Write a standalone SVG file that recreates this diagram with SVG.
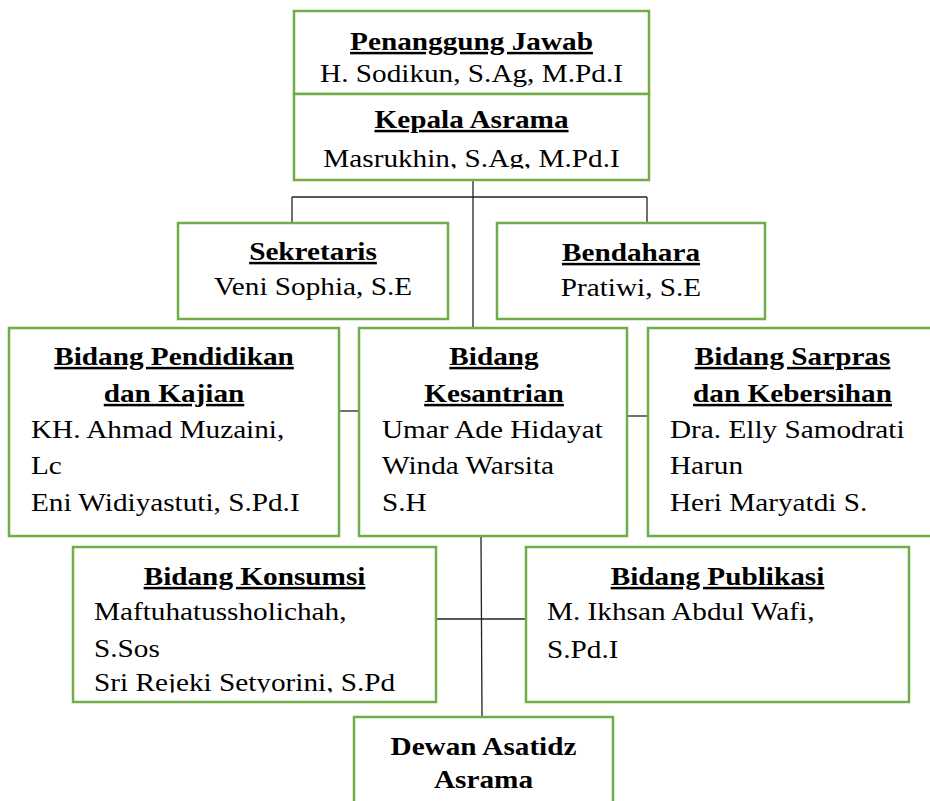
<svg xmlns="http://www.w3.org/2000/svg" width="930" height="801" viewBox="0 0 930 801">
<style>
.box{fill:#fff;stroke:#70AD47;stroke-width:2.5}
.c{stroke:#222;stroke-width:1.3;fill:none}
text{font-family:"Liberation Serif","Times New Roman",serif;font-size:25px;fill:#000}
.b{font-weight:bold}
.u{text-decoration:underline}
.m{text-anchor:middle}
</style>
<defs>
<clipPath id="clipK"><rect x="294" y="94" width="355" height="74.5"/></clipPath>
<clipPath id="clipS"><rect x="73" y="547" width="363" height="145.5"/></clipPath>
</defs>
<rect width="930" height="801" fill="#fff"/>
<g id="connectors">
<line class="c" x1="473" y1="180" x2="473" y2="328"/>
<line class="c" x1="292" y1="197" x2="647" y2="197"/>
<line class="c" x1="292" y1="197" x2="292" y2="223"/>
<line class="c" x1="647" y1="197" x2="647" y2="223"/>
<line class="c" x1="339" y1="411" x2="359" y2="411"/>
<line class="c" x1="627" y1="416" x2="648" y2="416"/>
<line class="c" x1="481" y1="536" x2="482" y2="717"/>
<line class="c" x1="436" y1="619" x2="526" y2="619"/>
</g>
<g id="penanggung-jawab">
<rect class="box" x="294" y="11" width="355" height="83"/>
<text class="b u m" transform="translate(471.5 50) scale(1.17 1)">Penanggung Jawab</text>
<text class="m" transform="translate(471.5 82) scale(1.17 1)">H. Sodikun, S.Ag, M.Pd.I</text>
</g>
<g id="kepala-asrama">
<rect class="box" x="294" y="94" width="355" height="86"/>
<text class="b u m" transform="translate(471.5 128) scale(1.17 1)">Kepala Asrama</text>
<g clip-path="url(#clipK)"><text class="m" transform="translate(471.5 167) scale(1.17 1)">Masrukhin, S.Ag, M.Pd.I</text></g>
</g>
<g id="sekretaris">
<rect class="box" x="178" y="223" width="270" height="96"/>
<text class="b u m" transform="translate(313 260) scale(1.17 1)">Sekretaris</text>
<text class="m" transform="translate(313 295) scale(1.17 1)">Veni Sophia, S.E</text>
</g>
<g id="bendahara">
<rect class="box" x="497" y="223" width="268" height="96"/>
<text class="b u m" transform="translate(631 261) scale(1.17 1)">Bendahara</text>
<text class="m" transform="translate(631 296) scale(1.17 1)">Pratiwi, S.E</text>
</g>
<g id="bidang-pendidikan">
<rect class="box" x="9" y="328" width="330" height="208"/>
<text class="b u m" transform="translate(174 365) scale(1.17 1)">Bidang Pendidikan</text>
<text class="b u m" transform="translate(174 402) scale(1.17 1)">dan Kajian</text>
<text transform="translate(31 438) scale(1.17 1)">KH. Ahmad Muzaini,</text>
<text transform="translate(31 474) scale(1.17 1)">Lc</text>
<text transform="translate(31 511) scale(1.17 1)">Eni Widiyastuti, S.Pd.I</text>
</g>
<g id="bidang-kesantrian">
<rect class="box" x="359" y="328" width="268" height="208"/>
<text class="b u m" transform="translate(494 365) scale(1.17 1)">Bidang</text>
<text class="b u m" transform="translate(494 402) scale(1.17 1)">Kesantrian</text>
<text transform="translate(382 438) scale(1.17 1)">Umar Ade Hidayat</text>
<text transform="translate(382 474) scale(1.17 1)">Winda Warsita</text>
<text transform="translate(382 511) scale(1.17 1)">S.H</text>
</g>
<g id="bidang-sarpras">
<rect class="box" x="648" y="328" width="290" height="208"/>
<text class="b u m" transform="translate(792.5 365) scale(1.17 1)">Bidang Sarpras</text>
<text class="b u m" transform="translate(792.5 402) scale(1.17 1)">dan Kebersihan</text>
<text transform="translate(670 438) scale(1.17 1)">Dra. Elly Samodrati</text>
<text transform="translate(670 474) scale(1.17 1)">Harun</text>
<text transform="translate(670 511) scale(1.17 1)">Heri Maryatdi S.</text>
</g>
<g id="bidang-konsumsi">
<rect class="box" x="73" y="547" width="363" height="155"/>
<text class="b u m" transform="translate(254.5 585) scale(1.17 1)">Bidang Konsumsi</text>
<text transform="translate(94 620) scale(1.17 1)">Maftuhatussholichah,</text>
<text transform="translate(94 657) scale(1.17 1)">S.Sos</text>
<g clip-path="url(#clipS)"><text transform="translate(94 691) scale(1.17 1)">Sri Rejeki Setyorini, S.Pd</text></g>
</g>
<g id="bidang-publikasi">
<rect class="box" x="526" y="547" width="383" height="155"/>
<text class="b u m" transform="translate(717.5 585) scale(1.17 1)">Bidang Publikasi</text>
<text transform="translate(547 620) scale(1.17 1)">M. Ikhsan Abdul Wafi,</text>
<text transform="translate(547 658) scale(1.17 1)">S.Pd.I</text>
</g>
<g id="dewan-asatidz">
<rect class="box" x="354" y="717" width="259" height="100"/>
<text class="b m" transform="translate(483.5 755) scale(1.17 1)">Dewan Asatidz</text>
<text class="b m" transform="translate(483.5 788) scale(1.17 1)">Asrama</text>
</g>
</svg>
